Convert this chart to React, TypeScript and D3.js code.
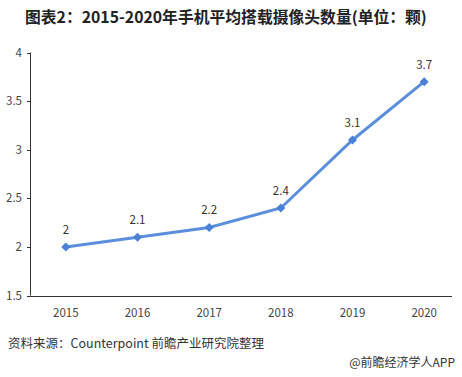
import React from "react";
import * as d3 from "d3";

const years = ["2015", "2016", "2017", "2018", "2019", "2020"];
const values = [2, 2.1, 2.2, 2.4, 3.1, 3.7];
const yTicks = [1.5, 2, 2.5, 3, 3.5, 4];
const title = "图表2：2015-2020年手机平均搭载摄像头数量(单位：颗)";
const source = "资料来源：Counterpoint 前瞻产业研究院整理";
const credit = "@前瞻经济学人APP";

const W = 462;
const H = 377;

export default function App() {
  const x = d3.scalePoint<string>().domain(years).range([30, 460]).padding(0.5);
  const y = d3.scaleLinear().domain([1.5, 4]).range([295.5, 52.5]);
  const line = d3
    .line<number>()
    .x((_, i) => x(years[i]) as number)
    .y((d) => y(d));
  const font = "'Microsoft YaHei', 'Noto Sans CJK SC', 'Noto Sans', sans-serif";
  return (
    <svg
      width={W}
      height={H}
      style={{ position: "absolute", left: 0, top: 0, background: "#fff" }}
      fontFamily={font}
    >
      <text x={25} y={23} fontSize={15.8} fontWeight="bold" fill="#222">
        {title}
      </text>
      {/* y axis */}
      <line x1={30.5} x2={30.5} y1={y(4)} y2={y(1.5)} stroke="#333" strokeWidth={1} />
      {yTicks.map((t) => (
        <g key={t}>
          <line x1={27} x2={30.5} y1={Math.round(y(t)) + 0.5} y2={Math.round(y(t)) + 0.5} stroke="#333" />
          <text x={22} y={y(t)} dy="0.35em" textAnchor="end" fontSize={11.5} fill="#444">
            {t}
          </text>
        </g>
      ))}
      {/* x axis */}
      <line x1={30} x2={452} y1={Math.round(y(1.5)) + 0.5} y2={Math.round(y(1.5)) + 0.5} stroke="#333" />
      {years.map((yr) => (
        <text key={yr} x={x(yr)} y={317} textAnchor="middle" fontSize={11.5} fill="#444">
          {yr}
        </text>
      ))}
      <path d={line(values) || ""} fill="none" stroke="#5b8fdc" strokeWidth={3} />
      {values.map((v, i) => {
        const cx = x(years[i]) as number;
        const cy = y(v);
        return (
          <g key={i}>
            <path
              d={`M${cx},${cy - 4.5}L${cx + 4.5},${cy}L${cx},${cy + 4.5}L${cx - 4.5},${cy}Z`}
              fill="#4a80d6"
            />
            <text x={cx} y={cy - 13} textAnchor="middle" fontSize={11.5} fill="#333">
              {v}
            </text>
          </g>
        );
      })}
      <text x={8} y={348} fontSize={12.5} fill="#333">
        {source}
      </text>
      <text x={455} y={367} textAnchor="end" fontSize={12} fill="#333">
        {credit}
      </text>
    </svg>
  );
}
